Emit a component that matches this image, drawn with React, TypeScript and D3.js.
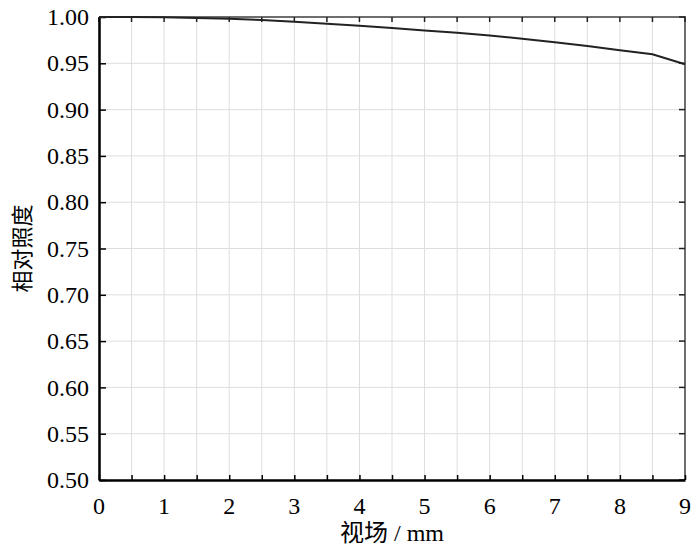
import * as d3 from "d3";
import { useEffect, useRef } from "react";

// field of view (mm) and relative illumination
const fieldMm = [0, 0.5, 1, 1.5, 2, 2.5, 3, 3.5, 4, 4.5, 5, 5.5, 6, 6.5, 7, 7.5, 8, 8.5, 9];
const relIllum = [
  1.0, 1.0, 0.9998, 0.999, 0.998, 0.9968, 0.995, 0.9928, 0.9905, 0.988, 0.9855, 0.983,
  0.98, 0.9765, 0.9728, 0.9686, 0.9642, 0.9598, 0.949,
];
const xTicks = [0, 1, 2, 3, 4, 5, 6, 7, 8, 9];
const yTicks = [0.5, 0.55, 0.6, 0.65, 0.7, 0.75, 0.8, 0.85, 0.9, 0.95, 1.0];

export default function App({
  width = 700,
  height = 550,
  marginTop = 17,
  marginRight = 15,
  marginBottom = 70,
  marginLeft = 99,
}) {
  const ref = useRef<SVGSVGElement | null>(null);

  useEffect(() => {
    document.body.style.margin = "0";
    const svg = d3.select(ref.current);
    svg.selectAll("*").remove();

    const x = d3.scaleLinear().domain([0, 9]).range([marginLeft, width - marginRight]);
    const y = d3.scaleLinear().domain([0.5, 1.0]).range([height - marginBottom, marginTop]);
    const font = "'Liberation Serif', 'Noto Sans CJK SC', serif";

    const minorX = d3.range(0, 9.01, 0.5);

    // ===== Grid =====
    const grid = svg.append("g").attr("stroke", "#dedede").attr("stroke-width", 1);
    grid
      .selectAll("line.vx")
      .data(minorX)
      .join("line")
      .attr("x1", (d) => x(d))
      .attr("x2", (d) => x(d))
      .attr("y1", y(0.5))
      .attr("y2", y(1));
    grid
      .selectAll("line.hy")
      .data(yTicks)
      .join("line")
      .attr("x1", x(0))
      .attr("x2", x(9))
      .attr("y1", (d) => y(d))
      .attr("y2", (d) => y(d));

    // ===== Frame: top & right gray =====
    svg
      .append("path")
      .attr("d", `M${x(0)},${y(1)}H${x(9)}V${y(0.5)}`)
      .attr("fill", "none")
      .attr("stroke", "#6e6e6e")
      .attr("stroke-width", 2);

    // inward ticks top
    svg
      .append("g")
      .selectAll("line")
      .data(minorX)
      .join("line")
      .attr("x1", (d) => x(d))
      .attr("x2", (d) => x(d))
      .attr("y1", y(1))
      .attr("y2", y(1) + 5)
      .attr("stroke", "#222")
      .attr("stroke-width", 1.5);

    // inward ticks right
    svg
      .append("g")
      .selectAll("line")
      .data(yTicks)
      .join("line")
      .attr("x1", x(9))
      .attr("x2", x(9) - 6)
      .attr("y1", (d) => y(d))
      .attr("y2", (d) => y(d))
      .attr("stroke", "#222")
      .attr("stroke-width", 1.5);

    // ===== Bottom axis =====
    const xAxis = svg
      .append("g")
      .attr("transform", `translate(0,${y(0.5)})`)
      .call(
        d3
          .axisBottom(x)
          .tickValues(minorX)
          .tickSizeInner(-5)
          .tickSizeOuter(0)
          .tickFormat(() => ""),
      );
    xAxis.select(".domain").attr("stroke", "#000").attr("stroke-width", 2.5);
    xAxis.selectAll(".tick line").attr("stroke", "#000").attr("stroke-width", 1.5);

    svg
      .append("g")
      .selectAll("text")
      .data(xTicks)
      .join("text")
      .attr("x", (d) => x(d))
      .attr("y", y(0.5) + 34)
      .attr("text-anchor", "middle")
      .style("font-family", font)
      .style("font-size", "24px")
      .text((d) => String(d));

    // ===== Left axis =====
    const yAxis = svg
      .append("g")
      .attr("transform", `translate(${x(0)},0)`)
      .call(
        d3
          .axisLeft(y)
          .tickValues(yTicks)
          .tickSizeInner(-7)
          .tickSizeOuter(0)
          .tickPadding(10)
          .tickFormat(d3.format(".2f")),
      );
    yAxis.select(".domain").attr("stroke", "#000").attr("stroke-width", 2.5);
    yAxis.selectAll(".tick line").attr("stroke", "#000").attr("stroke-width", 1.5);
    yAxis
      .selectAll(".tick text")
      .attr("fill", "#000")
      .style("font-family", font)
      .style("font-size", "24px");

    // ===== Curve =====
    const line = d3
      .line<number>()
      .x((_, i) => x(fieldMm[i]))
      .y((d) => y(d));
    svg
      .append("path")
      .datum(relIllum)
      .attr("d", line)
      .attr("fill", "none")
      .attr("stroke", "#222")
      .attr("stroke-width", 2);

    // ===== Labels =====
    svg
      .append("text")
      .attr("x", (x(0) + x(9)) / 2)
      .attr("y", 541)
      .attr("text-anchor", "middle")
      .style("font-family", font)
      .style("font-size", "24px")
      .text("视场 / mm");

    svg
      .append("text")
      .attr("transform", `translate(30,${(y(0.5) + y(1)) / 2}) rotate(-90)`)
      .attr("text-anchor", "middle")
      .style("font-family", font)
      .style("font-size", "22px")
      .text("相对照度");
  }, [width, height, marginTop, marginRight, marginBottom, marginLeft]);

  return (
    <svg ref={ref} width={width} height={height} style={{ display: "block", background: "#fff" }}>
      <title>相对照度</title>
    </svg>
  );
}
